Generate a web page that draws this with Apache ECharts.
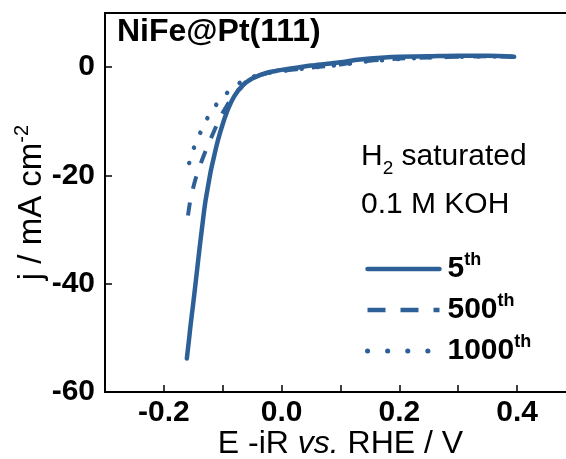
<!DOCTYPE html>
<html>
<head>
<meta charset="utf-8">
<script src="https://cdn.jsdelivr.net/npm/echarts@6/dist/echarts.min.js"></script>
<style>
html,body{margin:0;padding:0;background:#fff;}
#chart{width:566px;height:459px;}
</style>
</head>
<body>
<div id="chart"></div>
<script>
// ---- data ----
const seriesNames = ['5th', '500th', '1000th'];

const E5 = [-0.161,-0.158,-0.155,-0.150,-0.145,-0.140,-0.135,-0.130,-0.125,-0.120,-0.115,-0.110,-0.105,-0.100,-0.095,-0.090,-0.085,-0.080,-0.075,-0.070,-0.065,-0.060,-0.050,-0.040,-0.030,-0.020,-0.010,0.000,0.025,0.050,0.075,0.100,0.125,0.150,0.175,0.200,0.250,0.300,0.350,0.395];
const J5 = [-53.8,-51.0,-48.0,-43.5,-38.8,-34.0,-29.5,-25.2,-22.0,-19.0,-16.6,-14.3,-12.3,-10.5,-8.9,-7.5,-6.3,-5.3,-4.5,-3.9,-3.3,-2.8,-2.1,-1.6,-1.2,-0.9,-0.7,-0.5,-0.1,0.3,0.6,0.9,1.3,1.6,1.8,1.9,2.0,2.1,2.1,1.9];

const E500 = [-0.159,-0.155,-0.150,-0.145,-0.140,-0.135,-0.130,-0.125,-0.120,-0.115,-0.110,-0.105,-0.100,-0.095,-0.090,-0.085,-0.080,-0.075,-0.070,-0.065,-0.060,-0.050,-0.040,-0.030,-0.020,0.000,0.025,0.050,0.075,0.100,0.125,0.150,0.175,0.200,0.250,0.300,0.350,0.395];
const J500 = [-27.4,-24.5,-22.2,-20.2,-18.6,-17.1,-15.7,-14.4,-13.1,-11.9,-10.6,-9.5,-8.4,-7.5,-6.6,-5.9,-5.1,-4.4,-3.8,-3.2,-2.7,-2.0,-1.6,-1.3,-1.0,-0.7,-0.4,-0.1,0.2,0.5,0.9,1.2,1.4,1.6,1.8,1.9,2.0,1.9];

const E1000 = [-0.157,-0.153,-0.149,-0.145,-0.138,-0.132,-0.126,-0.120,-0.115,-0.110,-0.100,-0.092,-0.085,-0.078,-0.071,-0.065,-0.060,-0.050,-0.040,-0.030,-0.020,0.000,0.025,0.050,0.075,0.100,0.125,0.150,0.175,0.200,0.250,0.300,0.350,0.395];
const J1000 = [-17.7,-16.2,-14.9,-13.9,-12.1,-10.7,-9.4,-8.3,-7.5,-6.8,-5.6,-4.7,-4.0,-3.4,-2.9,-2.5,-2.2,-1.8,-1.5,-1.2,-1.0,-0.7,-0.4,-0.1,0.2,0.4,0.8,1.1,1.3,1.5,1.8,1.9,2.0,1.9];

const xTicks = { min: -0.3, max: 0.5, interval: 0.1 };
const yTicks = { min: -60, max: 10, interval: 20 };

// ---- chart ----
const zip = (a, b) => a.map((v, i) => [v, b[i]]);
const blue = '#2e6098';
const FONT = '"Liberation Sans", Arial, sans-serif';

const chart = echarts.init(document.getElementById('chart'), null, { renderer: 'canvas' });

const supRich = {
  b: { fontFamily: FONT, fontWeight: 'bold', fontSize: 30, color: '#000', lineHeight: 36, verticalAlign: 'middle' },
  sup: { fontFamily: FONT, fontWeight: 'bold', fontSize: 18, color: '#000', lineHeight: 36, verticalAlign: 'top' }
};

function legendLabel(name) {
  const m = name.match(/^(\d+)(\D+)$/);
  return '{b|' + m[1] + '}{sup|' + m[2] + '}';
}

const hiddenSymbol = { color: 'transparent', borderColor: 'transparent', borderWidth: 0, opacity: 0 };

const option = {
  backgroundColor: '#ffffff',
  animation: false,
  grid: {
    left: 105, top: 13, width: 471, height: 379,
    containLabel: false,
    outerBoundsMode: 'none',
    show: true, borderColor: '#000', borderWidth: 2, backgroundColor: 'transparent'
  },
  xAxis: {
    type: 'value',
    min: xTicks.min, max: xTicks.max, interval: xTicks.interval,
    name: 'E -iR {i|vs.} RHE / V',
    nameLocation: 'middle',
    nameGap: 36,
    nameMoveOverlap: false,
    nameTextStyle: {
      fontFamily: FONT, fontSize: 32, color: '#000',
      rich: { i: { fontFamily: FONT, fontSize: 32, fontStyle: 'italic', color: '#000' } }
    },
    axisLine: { show: true, onZero: false, lineStyle: { color: '#000', width: 2 } },
    axisTick: { show: true, inside: true, length: 7, lineStyle: { color: '#000', width: 1.5 } },
    splitLine: { show: false },
    axisLabel: {
      margin: 6,
      fontFamily: FONT, fontSize: 30, fontWeight: 'bold', color: '#000',
      showMinLabel: true, showMaxLabel: true,
      formatter: function (v) {
        const k = Math.round(v * 10);
        if (k % 2 !== 0 || k === 6 || k === -4) return '';
        return (k / 10).toFixed(1);
      }
    }
  },
  yAxis: {
    type: 'value',
    min: yTicks.min, max: yTicks.max, interval: yTicks.interval,
    name: 'j / mA cm{sup|-2}',
    nameLocation: 'middle',
    nameGap: 53,
    nameRotate: 90,
    nameMoveOverlap: false,
    nameTextStyle: {
      fontFamily: FONT, fontSize: 33, color: '#000',
      rich: {
        sup: { fontFamily: FONT, fontSize: 20, color: '#000', verticalAlign: 'top', lineHeight: 40 }
      },
      lineHeight: 40
    },
    axisLine: { show: true, onZero: false, lineStyle: { color: '#000', width: 2 } },
    axisTick: { show: true, inside: true, length: 7, lineStyle: { color: '#000', width: 1.5 } },
    splitLine: { show: false },
    axisLabel: {
      margin: 10,
      fontFamily: FONT, fontSize: 30, fontWeight: 'bold', color: '#000',
      formatter: function (v) { return v > 0 ? '' : String(v); }
    }
  },
  legend: {
    orient: 'vertical',
    left: 365, top: 251,
    padding: 0,
    itemWidth: 72, itemHeight: 36, itemGap: 8,
    formatter: legendLabel,
    itemStyle: hiddenSymbol,
    textStyle: { rich: supRich, padding: [0, 0, 0, 3] },
    data: [
      { name: seriesNames[0], itemStyle: hiddenSymbol, lineStyle: { type: 'solid', width: 4.5, cap: 'round' } },
      { name: seriesNames[1], itemStyle: hiddenSymbol, lineStyle: { type: [18, 15], width: 4.5, cap: 'butt' } },
      { name: seriesNames[2], itemStyle: hiddenSymbol, lineStyle: { type: [0.1, 20], width: 5, cap: 'round' } }
    ]
  },
  graphic: [
    {
      type: 'text', left: 117, top: 16,
      style: { text: 'NiFe@Pt(111)', fontFamily: FONT, fontSize: 32, fontWeight: 'bold', fill: '#000' }
    },
    {
      type: 'text', left: 361, top: 142,
      style: {
        text: '{n|H}{s|2}{n| saturated}',
        rich: {
          n: { fontFamily: FONT, fontSize: 30, fill: '#000', lineHeight: 42, verticalAlign: 'middle' },
          s: { fontFamily: FONT, fontSize: 19, fill: '#000', lineHeight: 42, verticalAlign: 'bottom' }
        }
      }
    },
    {
      type: 'text', left: 361, top: 190,
      style: { text: '0.1 M KOH', fontFamily: FONT, fontSize: 30, fill: '#000' }
    }
  ],
  series: [
    {
      name: seriesNames[0], type: 'line', data: zip(E5, J5),
      showSymbol: false, symbol: 'none', smooth: 0.3,
      lineStyle: { color: blue, width: 4.5, type: 'solid', cap: 'round', join: 'round' },
      itemStyle: { color: blue }, z: 3
    },
    {
      name: seriesNames[1], type: 'line', data: zip(E500, J500),
      showSymbol: false, symbol: 'none', smooth: 0.3,
      lineStyle: { color: blue, width: 4, type: [13, 14], cap: 'butt' },
      itemStyle: { color: blue }, z: 2
    },
    {
      name: seriesNames[2], type: 'line', data: zip(E1000, J1000),
      showSymbol: false, symbol: 'none', smooth: 0.3,
      lineStyle: { color: blue, width: 4.5, type: [0.1, 16], cap: 'round' },
      itemStyle: { color: blue }, z: 2
    }
  ]
};

chart.setOption(option);
</script>
</body>
</html>
